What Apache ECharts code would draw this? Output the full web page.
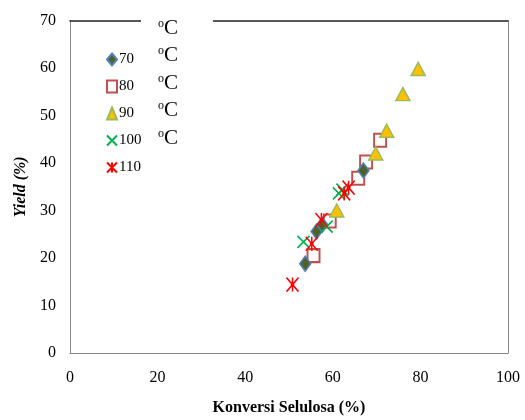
<!DOCTYPE html>
<html>
<head>
<meta charset="utf-8">
<script src="https://cdn.jsdelivr.net/npm/echarts@6/dist/echarts.min.js"></script>
<style>
  html, body { margin: 0; padding: 0; background: #fff; }
  #chart { width: 525px; height: 420px; }
</style>
</head>
<body>
<div id="chart"></div>
<script>
// Yield versus cellulose conversion at five temperatures (°C)
const seriesNames = ['70', '80', '90', '100', '110'];

const t70 = [[53.7, 18.8], [56.3, 25.6], [57.6, 27.0], [67.0, 38.4]];
const t80 = [[55.6, 20.5], [59.3, 27.8], [65.8, 36.8], [67.6, 40.2], [70.8, 44.8]];
const t90 = [[60.9, 30.0], [69.8, 42.0], [72.3, 46.8], [76.0, 54.5], [79.5, 59.8]];
const t100 = [[53.3, 23.4], [58.6, 26.6], [61.4, 33.6], [62.2, 34.4]];
const t110 = [[50.8, 14.4], [55.2, 23.0], [57.4, 28.0], [62.6, 33.6], [63.6, 34.8]];

const xTicks = [0, 20, 40, 60, 80, 100];
const yTicks = [0, 10, 20, 30, 40, 50, 60, 70];

const serif = '"Liberation Serif", "DejaVu Serif", serif';

const chart = echarts.init(document.getElementById('chart'), null, { renderer: 'canvas' });

const axisText = { color: '#000', fontFamily: serif, fontSize: 16 };

// vertical centres of the unit labels next to the legend
const unitRows = [28, 55.5, 83, 110.5, 138];

chart.setOption({
  animation: false,
  backgroundColor: '#fff',
  grid: { left: 70, right: 17, top: 20.5, bottom: 67, outerBoundsMode: 'none', containLabel: false },
  legend: {
    orient: 'vertical',
    left: 101,
    top: 47,
    itemGap: 12,
    itemWidth: 10,
    itemHeight: 12,
    textStyle: { color: '#000', fontFamily: serif, fontSize: 15, padding: [0, 0, 0, -3] },
    data: seriesNames
  },
  xAxis: [{
    type: 'value',
    min: xTicks[0],
    max: xTicks[xTicks.length - 1],
    interval: 20,
    splitLine: { show: false },
    axisTick: { show: false },
    axisLine: { show: true, onZero: false, lineStyle: { color: '#868686', width: 1 } },
    axisLabel: Object.assign({ margin: 17 }, axisText),
    name: 'Konversi Selulosa (%)',
    nameLocation: 'middle',
    nameGap: 47,
    nameTextStyle: { color: '#000', fontFamily: serif, fontSize: 16, fontWeight: 'bold' }
  }, {
    type: 'value',
    position: 'top',
    min: xTicks[0],
    max: xTicks[xTicks.length - 1],
    interval: 20,
    splitLine: { show: false },
    axisTick: { show: false },
    axisLabel: { show: false },
    axisLine: { show: true, onZero: false, lineStyle: { color: '#222', width: 1.5 } }
  }],
  yAxis: [{
    type: 'value',
    min: yTicks[0],
    max: yTicks[yTicks.length - 1],
    interval: 10,
    splitLine: { show: false },
    axisTick: { show: false },
    axisLine: { show: true, onZero: false, lineStyle: { color: '#868686', width: 1 } },
    axisLabel: Object.assign({ margin: 14 }, axisText),
    name: 'Yield (%)',
    nameLocation: 'middle',
    nameGap: 38,
    nameTextStyle: { color: '#000', fontFamily: serif, fontSize: 16, fontWeight: 'bold', fontStyle: 'italic' }
  }, {
    type: 'value',
    position: 'right',
    min: yTicks[0],
    max: yTicks[yTicks.length - 1],
    interval: 10,
    splitLine: { show: false },
    axisTick: { show: false },
    axisLabel: { show: false },
    axisLine: { show: true, onZero: false, lineStyle: { color: '#868686', width: 1 } }
  }],
  series: [
    {
      name: seriesNames[0], type: 'scatter', data: t70, z: 3,
      symbol: 'diamond', symbolSize: [11, 15],
      itemStyle: { color: '#4F6228', borderColor: '#4F81BD', borderWidth: 1.5, opacity: 1 }
    },
    {
      name: seriesNames[1], type: 'scatter', data: t80, z: 2,
      symbol: 'rect', symbolSize: [12, 13],
      itemStyle: { color: 'rgba(255,255,255,0)', borderColor: '#C0504D', borderWidth: 2, opacity: 1 }
    },
    {
      name: seriesNames[2], type: 'scatter', data: t90, z: 4,
      symbol: 'triangle', symbolSize: [14, 13],
      itemStyle: { color: '#FFC000', borderColor: '#9BBB59', borderWidth: 1.5, opacity: 1 }
    },
    {
      name: seriesNames[3], type: 'scatter', data: t100, z: 5,
      symbol: 'path://M0,0L10,10M10,0L0,10', symbolSize: [12, 12],
      itemStyle: { color: 'rgba(0,0,0,0)', borderColor: '#00B050', borderWidth: 1.6, opacity: 1 }
    },
    {
      name: seriesNames[4], type: 'scatter', data: t110, z: 6,
      symbol: 'path://M0,0L10,10M10,0L0,10M5,0L5,10M3.5,5L6.5,5', symbolSize: [12, 14],
      itemStyle: { color: 'rgba(0,0,0,0)', borderColor: '#FF0000', borderWidth: 1.6, opacity: 1 }
    }
  ],
  graphic: [
    // text box with the unit labels, it sits over the top border
    {
      type: 'rect', x: 141, y: 12, z: 100,
      shape: { width: 72, height: 16 },
      style: { fill: '#fff' }
    }
  ].concat(unitRows.map(function (cy) {
    return {
      type: 'text', x: 158, y: cy, z: 101,
      style: {
        text: '{s|o}{c|C}',
        verticalAlign: 'middle',
        rich: {
          s: { fontFamily: serif, fontSize: 12, verticalAlign: 'top', fill: '#000', padding: [0, 0, 8, 0] },
          c: { fontFamily: serif, fontSize: 21, fill: '#000' }
        }
      }
    };
  }))
});
</script>
</body>
</html>
